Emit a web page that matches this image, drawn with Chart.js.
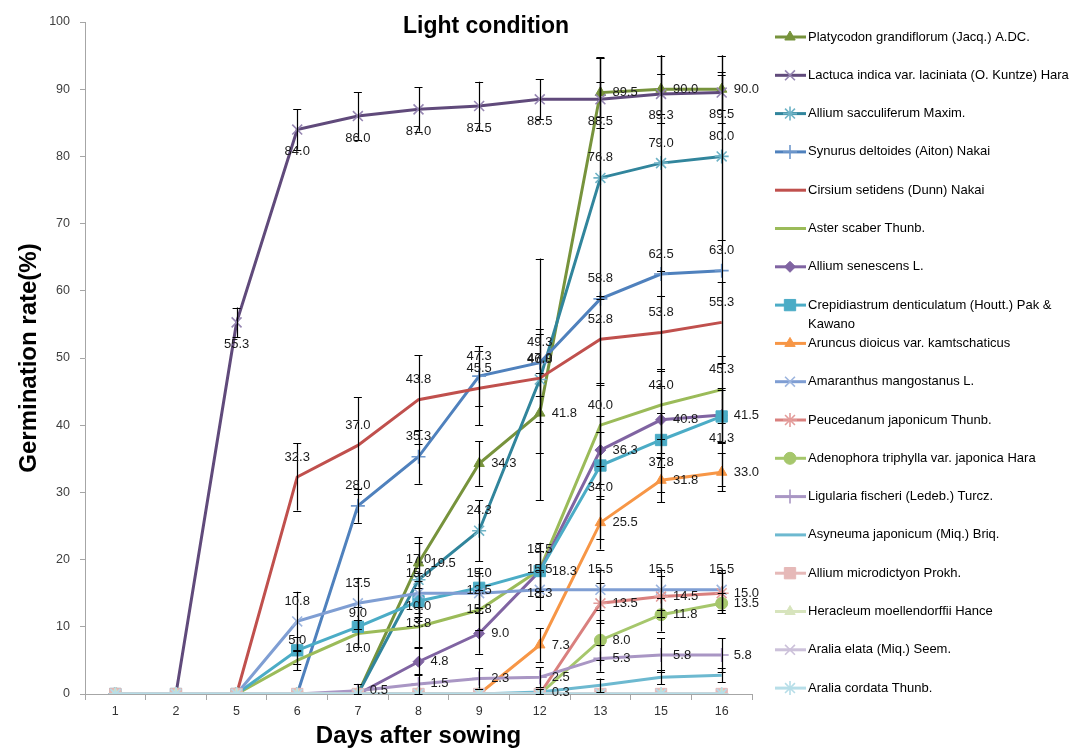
<!DOCTYPE html>
<html><head><meta charset="utf-8">
<script src="https://cdn.jsdelivr.net/npm/chart.js@4.4.1/dist/chart.umd.min.js"></script>
<style>html,body{margin:0;padding:0;background:#fff;}#wrap{position:relative;width:1084px;height:749px;}</style>
</head><body><div id="wrap"><canvas id="c" width="1084" height="749"></canvas></div>
<script>
const days = ['1','2','5','6','7','8','9','12','13','15','16'];
const yTicks = [0,10,20,30,40,50,60,70,80,90,100];
const seriesNames = ['Platycodon grandiflorum (Jacq.) A.DC.','Lactuca indica var. laciniata (O. Kuntze) Hara','Allium sacculiferum Maxim.','Synurus deltoides (Aiton) Nakai','Cirsium setidens (Dunn) Nakai','Aster scaber Thunb.','Allium senescens L.','Crepidiastrum denticulatum (Houtt.) Pak & Kawano','Aruncus dioicus var. kamtschaticus','Amaranthus mangostanus L.','Peucedanum japonicum Thunb.','Adenophora triphylla var. japonica Hara','Ligularia fischeri (Ledeb.) Turcz.','Asyneuma japonicum (Miq.) Briq.','Allium microdictyon Prokh.','Heracleum moellendorffii Hance','Aralia elata (Miq.) Seem.','Aralia cordata Thunb.'];

const platycodon       = [0,0,0,0,0,19.5,34.3,41.8,89.5,90.0,90.0];
const lactuca          = [0,0,55.3,84.0,86.0,87.0,87.5,88.5,88.5,89.3,89.5];
const alliumSacc       = [0,0,0,0,0,17.0,24.3,46.8,76.8,79.0,80.0];
const synurus          = [0,0,0,0,28.0,35.3,47.3,49.3,58.8,62.5,63.0];
const cirsium          = [0,0,0,32.3,37.0,43.8,45.5,47.0,52.8,53.8,55.3];
const aster            = [0,0,0,5.0,9.0,10.0,12.5,18.5,40.0,43.0,45.3];
const alliumSenescens  = [0,0,0,0,0,4.8,9.0,18.3,36.3,40.8,41.5];
const crepidiastrum    = [0,0,0,6.5,10.0,13.8,15.8,18.3,34.0,37.8,41.3];
const aruncus          = [0,0,0,0,0,0,0,7.3,25.5,31.8,33.0];
const amaranthus       = [0,0,0,10.8,13.5,15.0,15.0,15.5,15.5,15.5,15.5];
const peucedanum       = [0,0,0,0,0,0,0,0,13.5,14.5,15.0];
const adenophora       = [0,0,0,0,0,0,0,0,8.0,11.8,13.5];
const ligularia        = [0,0,0,0,0.5,1.5,2.3,2.5,5.3,5.8,5.8];
const asyneuma         = [0,0,0,0,0,0,0,0.3,1.3,2.5,2.8];
const alliumMicro      = [0,0,0,0,0,0,0,0,0,0,0];
const heracleum        = [0,0,0,0,0,0,0,0,0,0,0];
const araliaElata      = [0,0,0,0,0,0,0,0,0,0,0];
const araliaCordata    = [0,0,0,0,0,0,0,0,0,0,0];

const platycodonErr    = [0,0,0,0,0,3.8,3.3,6.0,5.2,5.0,5.0];
const lactucaErr       = [0,0,2.2,3.0,3.6,3.3,3.6,3.0,2.6,3.0,2.6];
const alliumSaccErr    = [0,0,0,0,0,5.5,4.5,18.0,18.0,16.0,12.5];
const synurusErr       = [0,0,0,0,2.5,4.0,4.5,5.0,35.8,32.5,32.0];
const cirsiumErr       = [0,0,0,5.0,7.2,6.6,5.5,6.5,6.5,5.5,6.0];
const asterErr         = [0,0,0,1.5,2.0,3.0,3.0,4.0,6.0,5.0,5.0];
const alliumSenErr     = [0,0,0,0,0,2.0,3.0,3.0,5.0,5.0,4.0];
const crepidiastrumErr = [0,0,0,2.0,3.0,3.0,3.0,3.0,5.0,4.0,4.0];
const aruncusErr       = [0,0,0,0,0,0,0,2.5,4.0,3.3,2.8];
const amaranthusErr    = [0,0,0,4.4,3.8,3.0,3.0,3.0,3.0,3.0,3.0];
const peucedanumErr    = [0,0,0,0,0,0,0,0,3.0,3.0,3.0];
const adenophoraErr    = [0,0,0,0,0,0,0,0,3.0,2.5,1.5];
const ligulariaErr     = [0,0,0,0,1.0,1.5,1.5,1.5,2.0,2.5,2.5];
const asyneumaErr      = [0,0,0,0,0,0,0,0.5,1.0,1.0,1.0];
const zeroErr          = [0,0,0,0,0,0,0,0,0,0,0];

const FONT = "'Liberation Sans', Arial, sans-serif";

const styles = [
  {c:'#77933C', m:'#77933C', ps:'triangle', r:6,  lp:'right'},
  {c:'#604A7B', m:'#9686B2', ps:'crossRot', r:7,  lp:'below'},
  {c:'#31859C', m:'#6FB3C6', ps:'star',     r:7,  lp:'above'},
  {c:'#4F81BD', m:'#6F98CC', ps:'cross',    r:7,  lp:'above'},
  {c:'#C0504D', m:'#C0504D', ps:false,      r:0,  lp:'above'},
  {c:'#9BBB59', m:'#9BBB59', ps:false,      r:0,  lp:'above'},
  {c:'#8064A2', m:'#8064A2', ps:'rectRot',  r:5.5,lp:'right'},
  {c:'#4BACC6', m:'#4BACC6', ps:'rect',     r:8,  lp:'below'},
  {c:'#F79646', m:'#F79646', ps:'triangle', r:6,  lp:'right'},
  {c:'#7F9ED3', m:'#9DB5DE', ps:'crossRot', r:7,  lp:'above'},
  {c:'#D9807E', m:'#E39C9A', ps:'star',     r:7,  lp:'right'},
  {c:'#A6C76C', m:'#A6C76C', ps:'circle',   r:6,  lp:'right'},
  {c:'#A996C4', m:'#A996C4', ps:'cross',    r:7,  lp:'right'},
  {c:'#6DB9D0', m:'#6DB9D0', ps:false,      r:0,  lp:'right'},
  {c:'#E6B9B8', m:'#E6B9B8', ps:'rect',     r:8,  lp:'right'},
  {c:'#D7E4BD', m:'#D7E4BD', ps:'triangle', r:6,  lp:'right'},
  {c:'#CCC1DA', m:'#CCC1DA', ps:'crossRot', r:7,  lp:'right'},
  {c:'#B7DEE8', m:'#B7DEE8', ps:'star',     r:7,  lp:'right'}
];
const seriesValues = [platycodon,lactuca,alliumSacc,synurus,cirsium,aster,alliumSenescens,crepidiastrum,aruncus,amaranthus,peucedanum,adenophora,ligularia,asyneuma,alliumMicro,heracleum,araliaElata,araliaCordata];
const seriesErrors = [platycodonErr,lactucaErr,alliumSaccErr,synurusErr,cirsiumErr,asterErr,alliumSenErr,crepidiastrumErr,aruncusErr,amaranthusErr,peucedanumErr,adenophoraErr,ligulariaErr,asyneumaErr,zeroErr,zeroErr,zeroErr,zeroErr];
const hiddenLabels = {7:[3], 13:[8,9,10]};

const N = seriesNames.length;
const datasets = seriesNames.map((name,i)=>{
  const s = styles[i];
  const filled = (s.ps==='triangle'||s.ps==='rect'||s.ps==='rectRot'||s.ps==='circle');
  return {
    label:name, data:seriesValues[i], errors:seriesErrors[i], lp:s.lp,
    borderColor:s.c, backgroundColor:s.c, borderWidth:3, tension:0,
    pointStyle:s.ps||'circle', pointRadius:s.r,
    pointBackgroundColor:filled?s.m:'rgba(0,0,0,0)', pointBorderColor:s.m,
    pointBorderWidth:filled?1:1.6, order:N-i, fill:false
  };
});

function drawMarker(ctx, st, x, y){
  if(!st.ps) return;
  const filled = (st.ps==='triangle'||st.ps==='rect'||st.ps==='rectRot'||st.ps==='circle');
  ctx.save();
  ctx.fillStyle = st.m; ctx.strokeStyle = st.m; ctx.lineWidth = filled?1:1.6;
  if (Chart.helpers && Chart.helpers.drawPoint) {
    Chart.helpers.drawPoint(ctx, {pointStyle:st.ps, radius:st.r, rotation:0, borderWidth:ctx.lineWidth}, x, y);
  } else {
    ctx.beginPath(); ctx.arc(x,y,st.r,0,Math.PI*2); ctx.fill();
  }
  ctx.restore();
}

const extras = {
  id:'extras',
  afterDatasetsDraw(chart){
    const ctx = chart.ctx, ys = chart.scales.y;
    ctx.save();
    ctx.strokeStyle = '#000'; ctx.lineWidth = 1.2;
    chart.data.datasets.forEach((ds,i)=>{
      const meta = chart.getDatasetMeta(i);
      ds.data.forEach((v,j)=>{
        const e = ds.errors[j]; if(!e) return;
        const x = meta.data[j].x;
        const y1 = ys.getPixelForValue(v+e), y2 = ys.getPixelForValue(Math.max(0,v-e));
        ctx.beginPath();
        ctx.moveTo(Math.round(x)+0.5,y1); ctx.lineTo(Math.round(x)+0.5,y2);
        ctx.moveTo(x-4,Math.round(y1)+0.5); ctx.lineTo(x+4,Math.round(y1)+0.5);
        ctx.moveTo(x-4,Math.round(y2)+0.5); ctx.lineTo(x+4,Math.round(y2)+0.5);
        ctx.stroke();
      });
    });
    ctx.restore();
    ctx.save();
    ctx.font = '13px '+FONT; ctx.fillStyle = '#1a1a1a'; ctx.textBaseline='middle';
    chart.data.datasets.forEach((ds,i)=>{
      const meta = chart.getDatasetMeta(i);
      const hid = hiddenLabels[i]||[];
      ds.data.forEach((v,j)=>{
        if(!v || hid.indexOf(j)>=0) return;
        const p = meta.data[j]; const t = v.toFixed(1);
        if(ds.lp==='above'){ctx.textAlign='center'; ctx.fillText(t,p.x,p.y-20);}
        else if(ds.lp==='below'){ctx.textAlign='center'; ctx.fillText(t,p.x,p.y+22);}
        else {ctx.textAlign='left'; ctx.fillText(t,p.x+12,p.y);}
      });
    });
    ctx.restore();
  },
  afterDraw(chart){
    const ctx = chart.ctx;
    ctx.save();
    ctx.font = 'bold 23px '+FONT; ctx.fillStyle='#000'; ctx.textAlign='center'; ctx.textBaseline='middle';
    ctx.fillText('Light condition', 486, 27);
    ctx.font = '13px '+FONT; ctx.textAlign='left';
    const maxW = 274;
    seriesNames.forEach((name,i)=>{
      const st = styles[i];
      const y = 37 + i*38.3;
      ctx.strokeStyle = st.c; ctx.lineWidth = 3;
      ctx.beginPath(); ctx.moveTo(775,y); ctx.lineTo(806,y); ctx.stroke();
      drawMarker(ctx, st, 790, y);
      ctx.fillStyle = '#000';
      const words = name.split(' '); let line=''; let ly=y;
      words.forEach(w=>{
        const test = line? line+' '+w : w;
        if(ctx.measureText(test).width>maxW && line){ ctx.fillText(line,808,ly); line=w; ly+=19; }
        else line=test;
      });
      ctx.fillText(line,808,ly);
    });
    ctx.restore();
  }
};

new Chart(document.getElementById('c'), {
  type:'line',
  data:{labels:days, datasets},
  options:{
    responsive:false, animation:false, devicePixelRatio:1,
    layout:{padding:{top:22,right:332,left:0,bottom:0}},
    plugins:{legend:{display:false}, tooltip:{enabled:false}, title:{display:false}},
    scales:{
      x:{
        type:'category', offset:true,
        grid:{offset:true, drawOnChartArea:false, tickLength:6, color:'#a6a6a6'},
        border:{color:'#a6a6a6', width:1},
        ticks:{font:{family:FONT,size:12.5}, color:'#333', padding:4, maxRotation:0, autoSkip:false},
        title:{display:true, text:'Days after sowing', font:{family:FONT,size:24,weight:'bold'}, color:'#000', padding:{top:0,bottom:-2}},
        afterFit(s){s.height=55;}
      },
      y:{
        min:0, max:100,
        afterBuildTicks(s){ s.ticks = yTicks.map(v=>({value:v})); },
        grid:{drawOnChartArea:false, tickLength:5, color:'#a6a6a6'},
        border:{color:'#a6a6a6', width:1},
        ticks:{font:{family:FONT,size:12.5}, color:'#404040', padding:10},
        title:{display:true, text:'Germination rate(%)', font:{family:FONT,size:24,weight:'bold'}, color:'#000', padding:{top:15,bottom:0}},
        afterFit(s){s.width=85;}
      }
    }
  },
  plugins:[extras]
});
</script></body></html>
